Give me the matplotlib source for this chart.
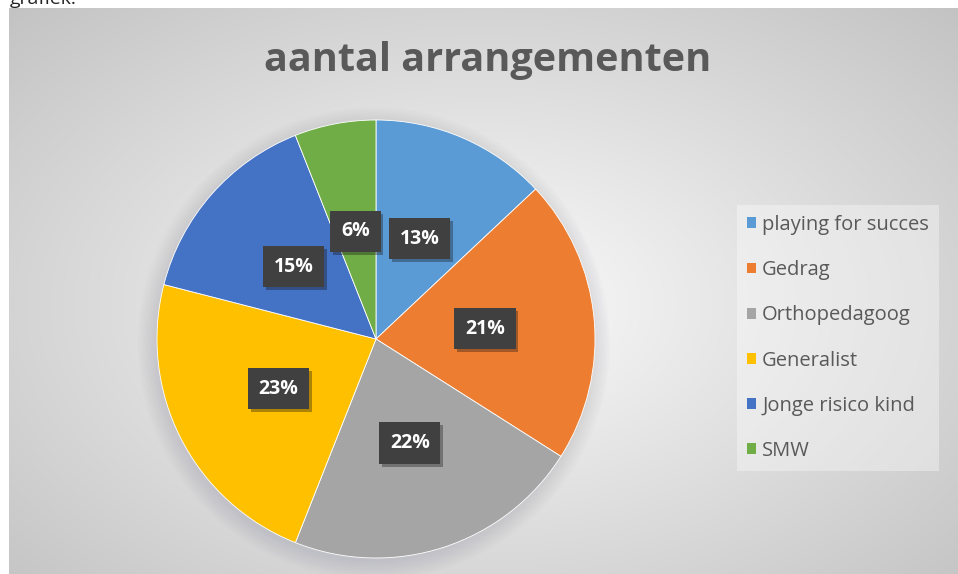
import numpy as np
import matplotlib.pyplot as plt
from matplotlib import patheffects
from matplotlib.patches import Patch, Circle

categories = ['playing for succes', 'Gedrag', 'Orthopedagoog', 'Generalist',
              'Jonge risico kind', 'SMW']
values = [13, 21, 22, 23, 15, 6]
colors = ['#5B9BD5', '#ED7D31', '#A5A5A5', '#FFC000', '#4472C4', '#70AD47']
title = 'aantal arrangementen'

W, H = 958, 574
plt.rcParams['font.family'] = ['Open Sans', 'DejaVu Sans']


def main():
    fig = plt.figure(figsize=(W / 100, H / 100), dpi=100)
    fig.patch.set_facecolor('white')

    # caption above the chart, cut off by the top edge as in the screenshot
    fig.text(10 / W, 1 - 4 / H, 'grafiek:', fontsize=14, color='#222222',
             va='baseline', ha='left')

    # chart area with radial gray gradient
    bg = fig.add_axes([9 / W, 0, 1 - 9 / W, 1 - 8 / H])
    bg.set_axis_off()
    nx, ny = 400, 240
    x = np.linspace(-1, 1, nx)
    y = np.linspace(-1, 1, ny)
    X, Y = np.meshgrid(x, y)
    cy = -0.05
    d = np.sqrt((X / 1.0) ** 2 + ((Y - cy) / 1.05) ** 2) / 1.45
    d = np.clip(d, 0, 1)
    light, dark = 0.985, 0.76
    val = light - (light - dark) * d ** 1.0
    img = np.dstack([val, val, val])
    bg.imshow(img, aspect='auto', extent=(0, 1, 0, 1), origin='lower')
    bg.set_xlim(0, 1)
    bg.set_ylim(0, 1)

    fig.text(488 / W, 1 - 60 / H, title, fontsize=28.5, fontweight='bold',
             color='#595959', ha='center', va='center')

    # pie
    cx, cyp, r = 376, 339, 219
    ax = fig.add_axes([(cx - r) / W, (H - cyp - r) / H, 2 * r / W, 2 * r / H])
    ax.set_axis_off()

    # soft shadow behind the pie
    for i in range(8):
        ax.add_patch(Circle((-0.01, -0.02), 1.0 + 0.011 * i, color='#6a6a80',
                            alpha=0.025, lw=0, zorder=0, clip_on=False))

    wedges, texts, autotexts = ax.pie(
        values, colors=colors, startangle=90, counterclock=False,
        autopct='%1.0f%%', pctdistance=0.5,
        wedgeprops=dict(edgecolor='white', linewidth=0.6),
        textprops=dict(color='white', fontsize=14, fontweight='bold'))
    for t in autotexts:
        t.set_bbox(dict(boxstyle='square,pad=0.55', facecolor='#404040',
                        edgecolor='none'))
        t.get_bbox_patch().set_path_effects(
            [patheffects.withSimplePatchShadow(offset=(2, -2), alpha=0.35)])
    ax.set_xlim(-1, 1)
    ax.set_ylim(-1, 1)
    ax.set_aspect('equal')

    handles = [Patch(facecolor=c, edgecolor='none') for c in colors]
    leg = fig.legend(handles, categories, loc='upper left',
                     bbox_to_anchor=(737 / W, 1 - 205 / H),
                     bbox_transform=fig.transFigure, borderaxespad=0,
                     fontsize=14.5, labelcolor='#595959', frameon=True,
                     handlelength=0.45, handleheight=0.45, handletextpad=0.3,
                     labelspacing=1.25, borderpad=0.5, fancybox=False)
    leg.get_frame().set_facecolor('white')
    leg.get_frame().set_alpha(0.35)
    leg.get_frame().set_edgecolor('none')

    fig.savefig('out.png', dpi=100)


if __name__ == '__main__':
    main()
